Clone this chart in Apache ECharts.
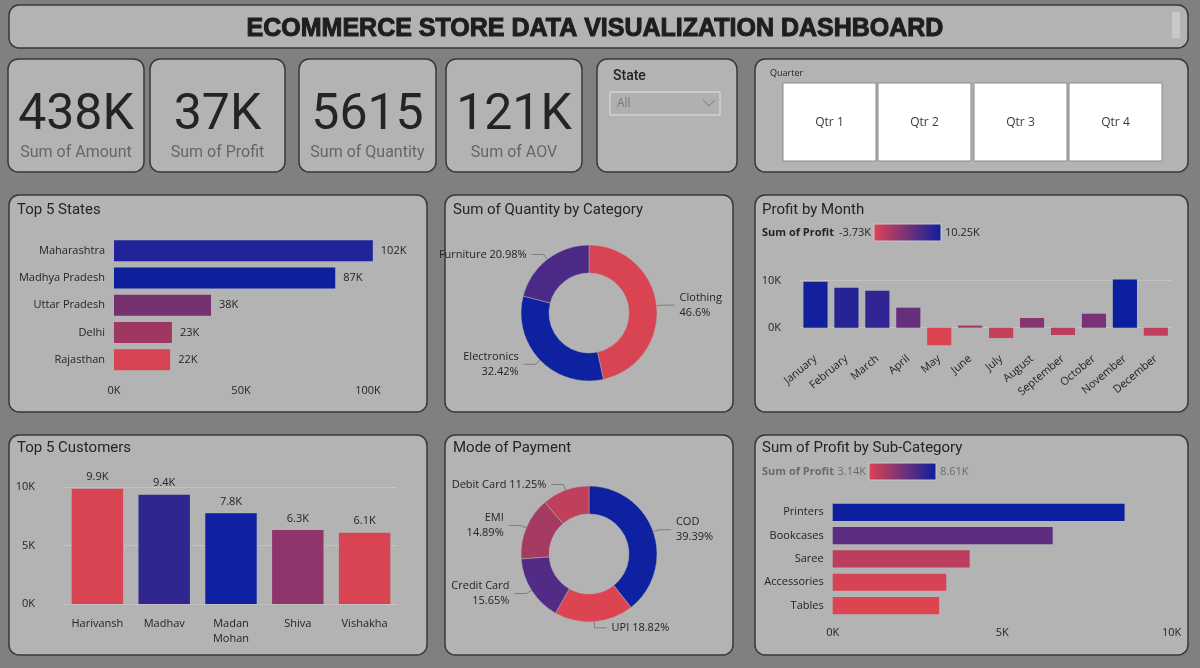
<!DOCTYPE html>
<html>
<head>
<meta charset="utf-8">
<title>Ecommerce Store Data Visualization Dashboard</title>
<script src="https://cdn.jsdelivr.net/npm/echarts@6/dist/echarts.min.js"></script>
<style>
  html, body { margin: 0; padding: 0; background: #808080; }
  #main { width: 1200px; height: 668px; }
</style>
</head>
<body>
<div id="main"></div>
<script>
// values
var kpiValues = ["438K", "37K", "5615", "121K"];
var kpiNames = ["Sum of Amount", "Sum of Profit", "Sum of Quantity", "Sum of AOV"];
var quarters = ["Qtr 1", "Qtr 2", "Qtr 3", "Qtr 4"];

var states = ["Maharashtra", "Madhya Pradesh", "Uttar Pradesh", "Delhi", "Rajasthan"];
var stateAmount = [101900, 87100, 38200, 22800, 22100];

var categories = ["Clothing", "Electronics", "Furniture"];
var categoryShare = [46.6, 32.42, 20.98];

var months = ["January", "February", "March", "April", "May", "June", "July",
  "August", "September", "October", "November", "December"];
var monthProfit = [9790, 8500, 7870, 4260, -3730, 450, -2200, 2060, -1550, 2980, 10250, -1700];

var customers = ["Harivansh", "Madhav", "Madan Mohan", "Shiva", "Vishakha"];
var customerAmount = [9880, 9370, 7770, 6340, 6110];

var payModes = ["COD", "UPI", "Credit Card", "EMI", "Debit Card"];
var payShare = [39.39, 18.82, 15.65, 14.89, 11.25];

var subCats = ["Printers", "Bookcases", "Saree", "Accessories", "Tables"];
var subProfit = [8610, 6490, 4040, 3350, 3140];

// colours
var LOW = "#dd4452", HIGH = "#0c1f9f";
var stateColors = ["#20239a", "#0e1f9e", "#763171", "#9e3863", "#d94452"];
var customerColors = ["#d94452", "#2f2690", "#0f21a0", "#8f356b", "#d94452"];
var categoryColors = ["#d94452", "#0e21a0", "#4b2a87"];
var payColors = ["#0e21a0", "#dc4452", "#522b86", "#a53a62", "#c03f5b"];

var TXT = "#252423";
var LABEL_FONT = "'Segoe UI', 'Open Sans', sans-serif";
var TITLE_FONT = "Roboto, 'Noto Sans', sans-serif";

function hexRgb(h) {
  return [parseInt(h.substr(1, 2), 16), parseInt(h.substr(3, 2), 16), parseInt(h.substr(5, 2), 16)];
}
// linear red -> blue gradient like the Power BI colour scale
function gradColor(v, min, max) {
  var t = (v - min) / (max - min);
  var a = hexRgb(LOW), b = hexRgb(HIGH);
  var c = a.map(function (x, i) { return Math.round(x + (b[i] - x) * t); });
  return "rgb(" + c.join(",") + ")";
}
function kFmt(v) { return v / 1000 + "K"; }

function panel(x, y, w, h) {
  return {
    type: "rect", z: 0,
    shape: { x: x, y: y, width: w, height: h, r: 10 },
    style: { fill: "#b3b3b3", stroke: "#383838", lineWidth: 1.5 }
  };
}
function txt(x, y, s, font, color, align) {
  return {
    type: "text", z: 10, x: x, y: y,
    style: { text: s, font: font, fill: color, textAlign: align || "left", textVerticalAlign: "middle" }
  };
}
function legendBar(x, y, w, h) {
  return {
    type: "rect", z: 10,
    shape: { x: x, y: y, width: w, height: h },
    style: {
      fill: new echarts.graphic.LinearGradient(0, 0, 1, 0, [
        { offset: 0, color: LOW }, { offset: 1, color: HIGH }
      ]),
      stroke: "#c9c9c9", lineWidth: 1
    }
  };
}

var graphics = [];
// page frame
graphics.push(panel(9, 5, 1179, 43));
graphics.push({ type: "rect", z: 10, shape: { x: 1172, y: 12, width: 8, height: 26 }, style: { fill: "#c9c9c9" } });
graphics.push({
  type: "text", z: 10, x: 595, y: 29,
  style: {
    text: "ECOMMERCE STORE DATA VISUALIZATION DASHBOARD",
    font: "bold 25px 'Liberation Sans', Arial, sans-serif",
    fill: "#1e1e1e", stroke: "#1e1e1e", lineWidth: 1,
    textAlign: "center", textVerticalAlign: "middle"
  }
});

// KPI cards
var kpiBoxes = [[8, 136], [150, 135], [299, 137], [446, 136]];
kpiBoxes.forEach(function (b, i) {
  graphics.push(panel(b[0], 59, b[1], 113));
  var cx = b[0] + b[1] / 2;
  graphics.push(txt(cx, 116, kpiValues[i], "50px " + TITLE_FONT, TXT, "center"));
  graphics.push(txt(cx, 153, kpiNames[i], "16px " + TITLE_FONT, "#666666", "center"));
});

// state slicer
graphics.push(panel(597, 59, 140, 113));
graphics.push(txt(613, 76, "State", "500 14px " + TITLE_FONT, TXT));
graphics.push({ type: "rect", z: 10, shape: { x: 610, y: 92, width: 110, height: 23 }, style: { fill: "#b0b0b0", stroke: "#e2e2e2", lineWidth: 1 } });
graphics.push(txt(617, 104, "All", "12px " + LABEL_FONT, "#777777"));
graphics.push({ type: "polyline", z: 10, shape: { points: [[703, 100], [709, 106], [715, 100]] }, style: { stroke: "#7a7a7a", lineWidth: 1, fill: null } });

// quarter slicer
graphics.push(panel(755, 59, 433, 113));
graphics.push(txt(770, 73, "Quarter", "9px " + LABEL_FONT, TXT));
var qx = [783, 878, 974, 1069];
quarters.forEach(function (q, i) {
  graphics.push({ type: "rect", z: 10, shape: { x: qx[i], y: 83, width: 93, height: 78 }, style: { fill: "#ffffff", stroke: "#8a8a8a", lineWidth: 1 } });
  graphics.push(txt(qx[i] + 46.5, 123, q, "12px " + LABEL_FONT, "#3a3a3a", "center"));
});

// visual panels
graphics.push(panel(9, 195, 418, 217));
graphics.push(panel(445, 195, 288, 217));
graphics.push(panel(755, 195, 433, 217));
graphics.push(panel(9, 435, 418, 220));
graphics.push(panel(445, 435, 288, 220));
graphics.push(panel(755, 435, 433, 220));

graphics.push(txt(17, 210, "Top 5 States", "15px " + TITLE_FONT, TXT));
graphics.push(txt(453, 210, "Sum of Quantity by Category", "15px " + TITLE_FONT, TXT));
graphics.push(txt(762, 210, "Profit by Month", "15px " + TITLE_FONT, TXT));
graphics.push(txt(17, 448, "Top 5 Customers", "15px " + TITLE_FONT, TXT));
graphics.push(txt(453, 448, "Mode of Payment", "15px " + TITLE_FONT, TXT));
graphics.push(txt(762, 448, "Sum of Profit by Sub-Category", "15px " + TITLE_FONT, TXT));

// gradient legends
var mMin = Math.min.apply(null, monthProfit), mMax = Math.max.apply(null, monthProfit);
var sMin = Math.min.apply(null, subProfit), sMax = Math.max.apply(null, subProfit);
graphics.push(txt(762, 233, "Sum of Profit", "bold 11px " + LABEL_FONT, TXT));
graphics.push(txt(871, 233, (mMin / 1000).toFixed(2) + "K", "11px " + LABEL_FONT, TXT, "right"));
graphics.push(legendBar(874, 224, 67, 17));
graphics.push(txt(945, 233, (mMax / 1000).toFixed(2) + "K", "11px " + LABEL_FONT, TXT));
graphics.push(txt(762, 472, "Sum of Profit", "bold 11px " + LABEL_FONT, "#6a6a6a"));
graphics.push(txt(866, 472, (sMin / 1000).toFixed(2) + "K", "11px " + LABEL_FONT, "#6a6a6a", "right"));
graphics.push(legendBar(869, 463, 67, 17));
graphics.push(txt(940, 472, (sMax / 1000).toFixed(2) + "K", "11px " + LABEL_FONT, "#6a6a6a"));

var axisText = { color: TXT, fontSize: 11, fontFamily: LABEL_FONT };
var noLine = { show: false };
var pieLabelLine = { length: 6, length2: 12, lineStyle: { color: "#7d7d7d", width: 1 } };

var chart = echarts.init(document.getElementById("main"));
var option = {
  backgroundColor: "#808080",
  animation: false,
  graphic: graphics,
  grid: [
    { left: 114, top: 237, width: 279.4, height: 136.4 },
    { left: 800, top: 257.2, width: 371.3, height: 94 },
    { left: 64, top: 487.3, width: 334, height: 116.7 },
    { left: 832.7, top: 500.7, width: 339, height: 116.5 }
  ],
  xAxis: [
    {
      gridIndex: 0, type: "value", min: 0, max: 110000, interval: 50000,
      axisLine: noLine, axisTick: noLine, splitLine: noLine,
      axisLabel: Object.assign({ margin: 12, showMaxLabel: false, formatter: kFmt }, axisText)
    },
    {
      gridIndex: 1, type: "category", data: months,
      axisLine: { show: false, onZero: false }, axisTick: noLine,
      axisLabel: Object.assign({ interval: 0, rotate: 40, margin: 6 }, axisText)
    },
    {
      gridIndex: 2, type: "category", data: customers,
      axisLine: noLine, axisTick: noLine,
      axisLabel: Object.assign({ interval: 0, margin: 12, lineHeight: 15,
        formatter: function (v) { return v.replace(" ", "\n"); } }, axisText)
    },
    {
      gridIndex: 3, type: "value", min: 0, max: 10000, interval: 5000,
      axisLine: noLine, axisTick: noLine, splitLine: noLine,
      axisLabel: Object.assign({ margin: 10, formatter: kFmt }, axisText)
    }
  ],
  yAxis: [
    {
      gridIndex: 0, type: "category", data: states, inverse: true,
      axisLine: noLine, axisTick: noLine,
      axisLabel: Object.assign({ margin: 9 }, axisText)
    },
    {
      gridIndex: 1, type: "value", min: -5000, max: 15000, interval: 5000,
      axisLine: noLine, axisTick: noLine, splitLine: noLine,
      axisLabel: Object.assign({ margin: 19, showMinLabel: false, showMaxLabel: false,
        formatter: function (v) { return v === 0 || v === 10000 ? kFmt(v) : ""; } }, axisText)
    },
    {
      gridIndex: 2, type: "value", min: 0, max: 10000, interval: 5000,
      axisLine: noLine, axisTick: noLine,
      splitLine: { lineStyle: { type: "dotted", color: "#d2d2d2" } },
      axisLabel: Object.assign({ margin: 29, formatter: kFmt }, axisText)
    },
    {
      gridIndex: 3, type: "category", data: subCats, inverse: true,
      axisLine: noLine, axisTick: noLine,
      axisLabel: Object.assign({ margin: 9 }, axisText)
    }
  ],
  series: [
    {
      name: "Top 5 States", type: "bar", xAxisIndex: 0, yAxisIndex: 0,
      barCategoryGap: "23%",
      data: stateAmount.map(function (v, i) { return { value: v, itemStyle: { color: stateColors[i] } }; }),
      label: {
        show: true, position: "right", distance: 8, color: TXT, fontSize: 11, fontFamily: LABEL_FONT,
        formatter: function (p) { return Math.round(p.value / 1000) + "K"; }
      }
    },
    {
      name: "Sum of Quantity by Category", type: "pie",
      center: [589, 313], radius: [40, 68], startAngle: 90, clockwise: true,
      itemStyle: { borderColor: "#b3b3b3", borderWidth: 0.5 },
      data: categories.map(function (c, i) {
        return { name: c, value: categoryShare[i], itemStyle: { color: categoryColors[i] } };
      }),
      label: {
        color: TXT, fontSize: 11, fontFamily: LABEL_FONT, lineHeight: 15,
        formatter: function (p) {
          return p.name === "Furniture" ? p.name + " " + p.value + "%" : p.name + "\n" + p.value + "%";
        }
      },
      labelLine: pieLabelLine
    },
    {
      name: "Profit by Month", type: "bar", xAxisIndex: 1, yAxisIndex: 1,
      barCategoryGap: "22%",
      data: monthProfit.map(function (v) { return { value: v, itemStyle: { color: gradColor(v, mMin, mMax) } }; }),
      markLine: {
        silent: true, z: 1, symbol: ["none", "none"], label: { show: false },
        lineStyle: { type: "dotted", color: "#d2d2d2", width: 1 },
        data: [{ yAxis: 0 }, { yAxis: 10000 }]
      }
    },
    {
      name: "Top 5 Customers", type: "bar", xAxisIndex: 2, yAxisIndex: 2,
      barCategoryGap: "23%",
      data: customerAmount.map(function (v, i) { return { value: v, itemStyle: { color: customerColors[i] } }; }),
      label: {
        show: true, position: "top", distance: 6, color: TXT, fontSize: 11, fontFamily: LABEL_FONT,
        formatter: function (p) { return (p.value / 1000).toFixed(1) + "K"; }
      }
    },
    {
      name: "Mode of Payment", type: "pie",
      center: [589, 554], radius: [40, 68], startAngle: 90, clockwise: true,
      itemStyle: { borderColor: "#b3b3b3", borderWidth: 0.5 },
      data: payModes.map(function (c, i) {
        return { name: c, value: payShare[i], itemStyle: { color: payColors[i] } };
      }),
      label: {
        color: TXT, fontSize: 11, fontFamily: LABEL_FONT, lineHeight: 15,
        formatter: function (p) {
          return (p.name === "UPI" || p.name === "Debit Card") ? p.name + " " + p.value + "%" : p.name + "\n" + p.value + "%";
        }
      },
      labelLine: pieLabelLine
    },
    {
      name: "Sum of Profit by Sub-Category", type: "bar", xAxisIndex: 3, yAxisIndex: 3,
      barCategoryGap: "26%",
      data: subProfit.map(function (v) { return { value: v, itemStyle: { color: gradColor(v, sMin, sMax) } }; })
    }
  ]
};
chart.setOption(option);
</script>
</body>
</html>
